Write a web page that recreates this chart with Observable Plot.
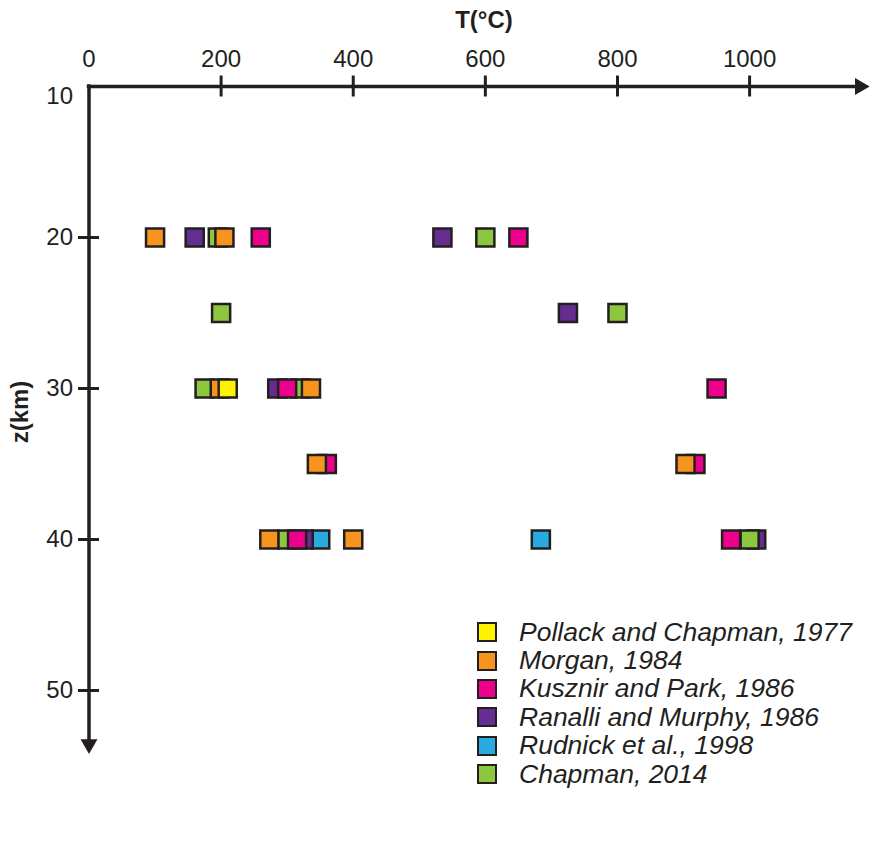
<!DOCTYPE html>
<html>
<head>
<meta charset="utf-8">
<script src="https://cdn.jsdelivr.net/npm/d3@7"></script>
<script src="https://cdn.jsdelivr.net/npm/@observablehq/plot@0.6"></script>
<style>
  html, body { margin: 0; padding: 0; background: #fff; }
  #wrap { position: relative; width: 873px; height: 845px; font-family: "Liberation Sans", Arial, sans-serif; color: #231f20; }
  #wrap svg { position: absolute; left: 0; top: 0; }
  .xtitle { position: absolute; left: 434px; width: 100px; top: 6px; text-align: center; font-weight: bold; font-size: 24px; }
  .ytitle { position: absolute; left: -30px; width: 100px; top: 398px; text-align: center; font-weight: bold; font-size: 24px; transform: rotate(-90deg); }
  .legend { position: absolute; left: 477px; top: 618px; }
  .legend .row { display: flex; align-items: center; height: 28.4px; }
  .legend .sw { width: 20px; height: 20px; box-sizing: border-box; border: 2.5px solid #231f20; margin-right: 22px; }
  .legend .lab { font-style: italic; font-size: 26.5px; white-space: nowrap; }
</style>
</head>
<body>
<div id="wrap">
  <div class="xtitle">T(°C)</div>
  <div class="ytitle">z(km)</div>
  <div class="legend" id="legend"></div>
</div>
<script>
// ---- data (draw order: later points lie on top) ----
const sources = [
  "Pollack and Chapman, 1977",
  "Morgan, 1984",
  "Kusznir and Park, 1986",
  "Ranalli and Murphy, 1986",
  "Rudnick et al., 1998",
  "Chapman, 2014"
];
const sourceColors = ["#fff200", "#f7941e", "#ec008c", "#662d91", "#29abe2", "#8dc63f"];

const pointSource = [
  // z = 20
  "Morgan, 1984", "Ranalli and Murphy, 1986", "Chapman, 2014", "Morgan, 1984", "Kusznir and Park, 1986",
  "Ranalli and Murphy, 1986", "Chapman, 2014", "Kusznir and Park, 1986",
  // z = 25
  "Chapman, 2014", "Ranalli and Murphy, 1986", "Chapman, 2014",
  // z = 30
  "Chapman, 2014", "Morgan, 1984", "Pollack and Chapman, 1977",
  "Ranalli and Murphy, 1986", "Chapman, 2014", "Kusznir and Park, 1986", "Morgan, 1984",
  "Kusznir and Park, 1986",
  // z = 35
  "Kusznir and Park, 1986", "Morgan, 1984", "Kusznir and Park, 1986", "Morgan, 1984",
  // z = 40
  "Rudnick et al., 1998", "Chapman, 2014", "Morgan, 1984", "Ranalli and Murphy, 1986", "Kusznir and Park, 1986",
  "Morgan, 1984", "Rudnick et al., 1998",
  "Ranalli and Murphy, 1986", "Chapman, 2014", "Kusznir and Park, 1986"
];
const pointDepth = [
  20, 20, 20, 20, 20, 20, 20, 20,
  25, 25, 25,
  30, 30, 30, 30, 30, 30, 30, 30,
  35, 35, 35, 35,
  40, 40, 40, 40, 40, 40, 40, 40, 40, 40
];
const pointTemp = [
  100, 160, 195, 205, 260, 535, 600, 650,
  200, 725, 800,
  175, 198, 210, 285, 320, 300, 336, 950,
  360, 345, 918, 903,
  350, 300, 273, 325, 315, 400, 684, 1010, 1000, 972
];

const xTicks = [0, 200, 400, 600, 800, 1000];
const yTicks = [10, 20, 30, 40, 50];

const points = pointTemp.map((t, i) => ({T: t, z: pointDepth[i], src: pointSource[i]}));

const ink = "#231f20";
const chart = Plot.plot({
  width: 873,
  height: 845,
  marginLeft: 88.5,
  marginRight: 5,
  marginTop: 86,
  marginBottom: 79.5,
  x: {domain: [0, 1180], axis: null},
  y: {domain: [10, 55], reverse: true, axis: null},
  color: {domain: sources, range: sourceColors},
  style: {fontFamily: "'Liberation Sans', Arial, sans-serif", color: ink, background: "white"},
  marks: [
    // axis lines
    Plot.ruleY([10], {x1: 0, x2: 1160, stroke: ink, strokeWidth: 3.5, strokeLinecap: "square"}),
    Plot.ruleX([0], {y1: 10, y2: 53.3, stroke: ink, strokeWidth: 3.5, strokeLinecap: "square"}),
    Plot.dot([0], {x: 1167, y: 10, symbol: "triangle", r: 6.3, rotate: 90, fill: ink, stroke: null}),
    Plot.dot([0], {x: 0, y: 53.55, symbol: "triangle", r: 6.3, rotate: 180, fill: ink, stroke: null}),
    // ticks crossing axes
    Plot.ruleX(xTicks.filter(d => d > 0), {x: d => d, y1: 10, y2: 10, insetTop: -10.5, insetBottom: -10.5, stroke: ink, strokeWidth: 3}),
    Plot.ruleY(yTicks.filter(d => d > 10), {y: d => d, x1: 0, x2: 0, insetLeft: -10.5, insetRight: -10.5, stroke: ink, strokeWidth: 3}),
    // tick labels
    Plot.text(xTicks, {x: d => d, y: 10, text: d => String(d), dy: -27, fontSize: 24, fill: ink}),
    Plot.text(yTicks.filter(d => d > 10), {x: 0, y: d => d, text: d => String(d), dx: -16, textAnchor: "end", fontSize: 24, fill: ink}),
    Plot.text(yTicks.filter(d => d === 10), {x: 0, y: d => d, text: d => String(d), dx: -16, dy: 10, textAnchor: "end", fontSize: 24, fill: ink}),
    // data squares
    Plot.dot(points, {x: "T", y: "z", fill: "src", symbol: "square", r: 10.2, stroke: ink, strokeWidth: 2.5})
  ]
});
document.getElementById("wrap").prepend(chart);

// legend
const leg = document.getElementById("legend");
sources.forEach((s, i) => {
  const row = document.createElement("div");
  row.className = "row";
  const sw = document.createElement("div");
  sw.className = "sw";
  sw.style.background = sourceColors[i];
  const lab = document.createElement("div");
  lab.className = "lab";
  lab.textContent = s;
  row.appendChild(sw);
  row.appendChild(lab);
  leg.appendChild(row);
});
</script>
</body>
</html>
